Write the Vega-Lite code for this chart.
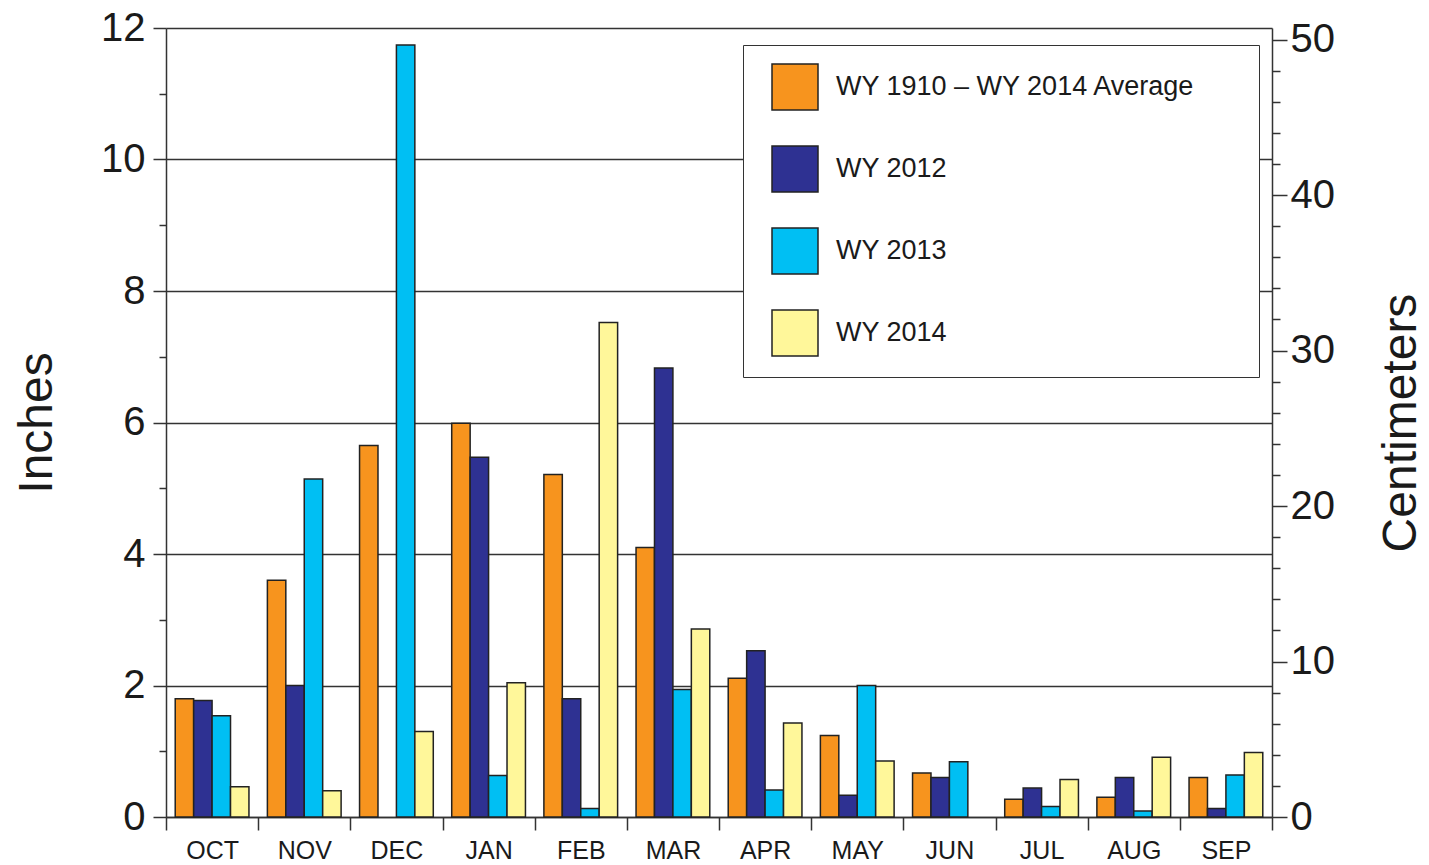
{
  "$schema": "https://vega.github.io/schema/vega-lite/v6.json",
  "width": 1106,
  "height": 789,
  "autosize": {"type": "none"},
  "padding": {"left": 166, "top": 28, "right": 157, "bottom": 48},
  "background": "white",
  "config": {
    "font": "Liberation Sans",
    "view": {"stroke": null},
    "axis": {"domainColor": "#333", "domainWidth": 1.5, "tickColor": "#333", "tickWidth": 1.5, "labelColor": "#1a1a1a", "titleColor": "#1a1a1a", "titleFontWeight": "normal", "labelFont": "Liberation Sans", "titleFont": "Liberation Sans"}
  },
  "data": {
    "values": [
      {"month": "OCT", "series": "WY 1910 – WY 2014 Average", "inches": 1.80},
      {"month": "OCT", "series": "WY 2012", "inches": 1.77},
      {"month": "OCT", "series": "WY 2013", "inches": 1.54},
      {"month": "OCT", "series": "WY 2014", "inches": 0.46},
      {"month": "NOV", "series": "WY 1910 – WY 2014 Average", "inches": 3.60},
      {"month": "NOV", "series": "WY 2012", "inches": 2.00},
      {"month": "NOV", "series": "WY 2013", "inches": 5.14},
      {"month": "NOV", "series": "WY 2014", "inches": 0.40},
      {"month": "DEC", "series": "WY 1910 – WY 2014 Average", "inches": 5.65},
      {"month": "DEC", "series": "WY 2013", "inches": 11.74},
      {"month": "DEC", "series": "WY 2014", "inches": 1.30},
      {"month": "JAN", "series": "WY 1910 – WY 2014 Average", "inches": 5.99},
      {"month": "JAN", "series": "WY 2012", "inches": 5.47},
      {"month": "JAN", "series": "WY 2013", "inches": 0.63},
      {"month": "JAN", "series": "WY 2014", "inches": 2.04},
      {"month": "FEB", "series": "WY 1910 – WY 2014 Average", "inches": 5.21},
      {"month": "FEB", "series": "WY 2012", "inches": 1.80},
      {"month": "FEB", "series": "WY 2013", "inches": 0.13},
      {"month": "FEB", "series": "WY 2014", "inches": 7.52},
      {"month": "MAR", "series": "WY 1910 – WY 2014 Average", "inches": 4.10},
      {"month": "MAR", "series": "WY 2012", "inches": 6.83},
      {"month": "MAR", "series": "WY 2013", "inches": 1.94},
      {"month": "MAR", "series": "WY 2014", "inches": 2.86},
      {"month": "APR", "series": "WY 1910 – WY 2014 Average", "inches": 2.11},
      {"month": "APR", "series": "WY 2012", "inches": 2.53},
      {"month": "APR", "series": "WY 2013", "inches": 0.41},
      {"month": "APR", "series": "WY 2014", "inches": 1.43},
      {"month": "MAY", "series": "WY 1910 – WY 2014 Average", "inches": 1.24},
      {"month": "MAY", "series": "WY 2012", "inches": 0.33},
      {"month": "MAY", "series": "WY 2013", "inches": 2.00},
      {"month": "MAY", "series": "WY 2014", "inches": 0.85},
      {"month": "JUN", "series": "WY 1910 – WY 2014 Average", "inches": 0.67},
      {"month": "JUN", "series": "WY 2012", "inches": 0.60},
      {"month": "JUN", "series": "WY 2013", "inches": 0.84},
      {"month": "JUL", "series": "WY 1910 – WY 2014 Average", "inches": 0.27},
      {"month": "JUL", "series": "WY 2012", "inches": 0.44},
      {"month": "JUL", "series": "WY 2013", "inches": 0.16},
      {"month": "JUL", "series": "WY 2014", "inches": 0.57},
      {"month": "AUG", "series": "WY 1910 – WY 2014 Average", "inches": 0.30},
      {"month": "AUG", "series": "WY 2012", "inches": 0.60},
      {"month": "AUG", "series": "WY 2013", "inches": 0.09},
      {"month": "AUG", "series": "WY 2014", "inches": 0.91},
      {"month": "SEP", "series": "WY 1910 – WY 2014 Average", "inches": 0.60},
      {"month": "SEP", "series": "WY 2012", "inches": 0.13},
      {"month": "SEP", "series": "WY 2013", "inches": 0.64},
      {"month": "SEP", "series": "WY 2014", "inches": 0.98}
    ]
  },
  "layer": [
    {
      "mark": {"type": "bar", "stroke": "#222", "strokeWidth": 1.5},
      "encoding": {
        "x": {
          "field": "month", "type": "nominal",
          "sort": ["OCT", "NOV", "DEC", "JAN", "FEB", "MAR", "APR", "MAY", "JUN", "JUL", "AUG", "SEP"],
          "scale": {"paddingInner": 0, "paddingOuter": 0},
          "axis": {"title": null, "tickBand": "extent", "labelAngle": 0, "labelFontSize": 25, "labelPadding": 8, "tickSize": 13, "labelBaseline": "top"}
        },
        "xOffset": {
          "field": "series", "type": "nominal",
          "sort": ["WY 1910 – WY 2014 Average", "WY 2012", "WY 2013", "WY 2014"],
          "scale": {"paddingInner": 0, "paddingOuter": 0.5}
        },
        "y": {
          "field": "inches", "type": "quantitative",
          "scale": {"domain": [0, 12], "nice": false},
          "axis": {
            "orient": "left",
            "title": "Inches",
            "values": [0, 2, 4, 6, 8, 10, 12],
            "tickSize": 13,
            "grid": true, "gridColor": "#333", "gridWidth": 1.5,
            "labelFontSize": 40, "labelPadding": 8,
            "titleFontSize": 48, "titlePadding": 39
          }
        },
        "color": {
          "field": "series", "type": "nominal",
          "scale": {
            "domain": ["WY 1910 – WY 2014 Average", "WY 2012", "WY 2013", "WY 2014"],
            "range": ["#F7941E", "#2E3192", "#00BFF3", "#FFF79A"]
          },
          "legend": {
            "orient": "none", "legendX": 577, "legendY": 17,
            "title": null,
            "symbolType": "square", "symbolSize": 2116, "symbolOffset": 10,
            "symbolStrokeColor": "#222", "symbolStrokeWidth": 1.5, "symbolOpacity": 1,
            "labelFontSize": 27, "labelOffset": 17, "labelColor": "#1a1a1a", "labelLimit": 700,
            "rowPadding": 30, "padding": 18,
            "strokeColor": "#333", "fillColor": "white",
            "labelExpr": "length(datum.label) > 10 ? datum.label + '\u00a0\u00a0\u00a0\u00a0\u00a0\u00a0\u200b' : datum.label"
          }
        }
      }
    },
    {
      "mark": {"type": "rule", "opacity": 0},
      "encoding": {
        "y": {
          "datum": 0, "type": "quantitative",
          "scale": {"domain": [0, 12], "nice": false},
          "axis": {
            "orient": "left", "title": null, "domain": false, "labels": false, "grid": false,
            "values": [1, 3, 5, 7, 9, 11], "tickSize": 7
          }
        }
      }
    },
    {
      "mark": {"type": "rule", "opacity": 0},
      "encoding": {
        "y": {
          "datum": 0, "type": "quantitative",
          "scale": {"domain": [0, 50.74], "nice": false},
          "axis": {
            "orient": "right",
            "title": "Centimeters",
            "values": [0, 10, 20, 30, 40, 50],
            "tickSize": 15, "grid": false,
            "labelFontSize": 40, "labelPadding": 3,
            "titleFontSize": 48, "titlePadding": 91, "titleAngle": -90
          }
        }
      }
    },
    {
      "mark": {"type": "rule", "opacity": 0},
      "encoding": {
        "y": {
          "datum": 0, "type": "quantitative",
          "scale": {"domain": [0, 50.74], "nice": false},
          "axis": {
            "orient": "right", "title": null, "domain": false, "labels": false, "grid": false,
            "values": [2, 4, 6, 8, 12, 14, 16, 18, 22, 24, 26, 28, 32, 34, 36, 38, 42, 44, 46, 48],
            "tickSize": 8
          }
        }
      }
    }
  ],
  "resolve": {"scale": {"y": "independent"}}
}
